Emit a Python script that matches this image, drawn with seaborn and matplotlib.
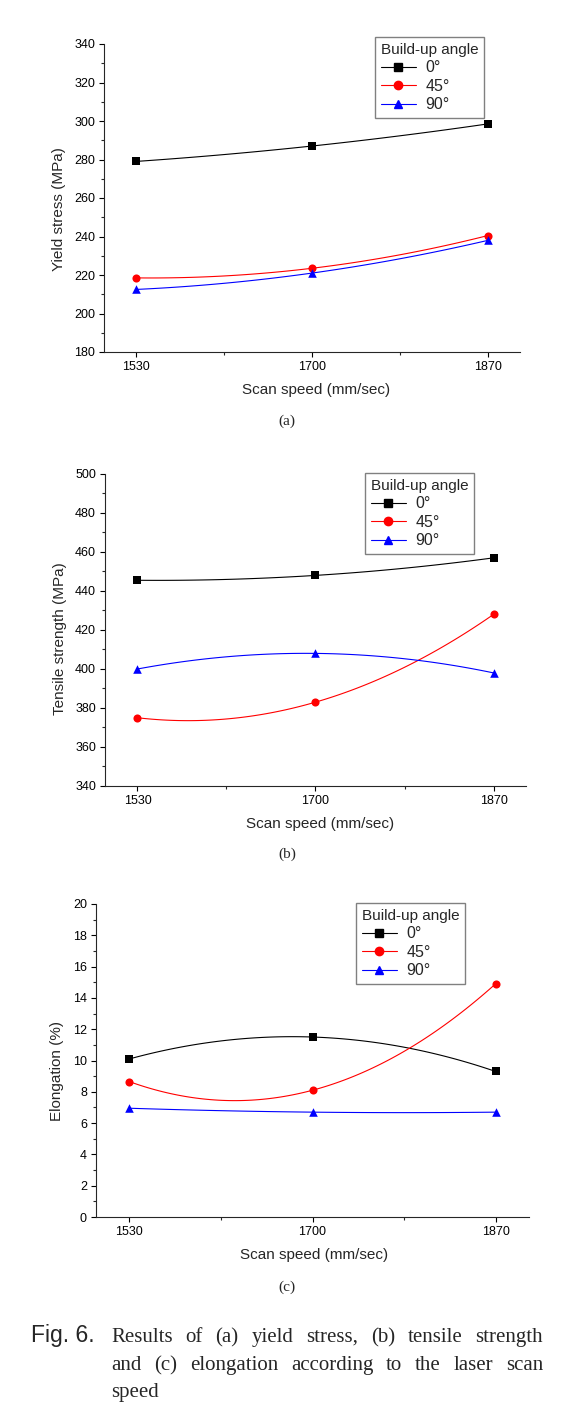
import numpy as np
import pandas as pd
import matplotlib
matplotlib.use("Agg")
import matplotlib.pyplot as plt
import seaborn as sns
from matplotlib.lines import Line2D
from matplotlib.ticker import MultipleLocator, FixedLocator

# ---------------- data ----------------
scan_speed = [1530, 1700, 1870]
angles = ["0°", "45°", "90°"]

yield_0 = [279.0, 287.0, 298.5]
yield_45 = [218.5, 223.5, 240.5]
yield_90 = [212.5, 221.0, 238.0]

tensile_0 = [445.5, 448.0, 457.0]
tensile_45 = [375.0, 383.0, 428.0]
tensile_90 = [400.0, 408.0, 398.0]

elong_0 = [10.1, 11.5, 9.3]
elong_45 = [8.65, 8.1, 14.9]
elong_90 = [6.95, 6.7, 6.7]

colors = ["black", "#ff0000", "#0000ff"]
markers = ["s", "o", "^"]
msizes = [26, 34, 38]

sns.set_style("ticks")
plt.rcParams["font.family"] = ["Liberation Sans", "DejaVu Sans"]
plt.rcParams["axes.linewidth"] = 0.8

W, H = 563, 1416
fig = plt.figure(figsize=(W / 100, H / 100), dpi=100)

# panel layout in pixels: left, right, top, bottom
panels = [
    dict(box=(104, 520, 44, 352), series=[yield_0, yield_45, yield_90],
         ylim=(180, 340), major=20, minor=10, ylabel="Yield stress (MPa)",
         ylab_xy=(-0.092, 0.464), xlab_xy=(0.51, -0.100),
         leg=(375, 37), tag="(a)", tag_y=421),
    dict(box=(105, 526, 474, 786), series=[tensile_0, tensile_45, tensile_90],
         ylim=(340, 500), major=20, minor=10, ylabel="Tensile strength (MPa)",
         ylab_xy=(-0.091, 0.471), xlab_xy=(0.512, -0.099),
         leg=(365, 473), tag="(b)", tag_y=854),
    dict(box=(96, 529, 904, 1217), series=[elong_0, elong_45, elong_90],
         ylim=(0, 20), major=2, minor=1, ylabel="Elongation (%)",
         ylab_xy=(-0.075, 0.466), xlab_xy=(0.503, -0.099),
         leg=(356, 903), tag="(c)", tag_y=1287),
]

for p in panels:
    l, r, t, b = p["box"]
    ax = fig.add_axes([l / W, 1 - b / H, (r - l) / W, (b - t) / H])
    for vals, c, m, s in zip(p["series"], colors, markers, msizes):
        df = pd.DataFrame({"speed": scan_speed, "val": vals})
        # origin-style smooth connector: exact quadratic through the 3 points
        sns.regplot(data=df, x="speed", y="val", order=2, ci=None, truncate=True,
                    color=c, marker=m, ax=ax,
                    scatter_kws={"s": s, "alpha": 1, "linewidths": 0, "zorder": 3},
                    line_kws={"lw": 0.8, "zorder": 2})
    ax.set_xlim(1499, 1901)
    ax.set_ylim(*p["ylim"])
    ax.xaxis.set_major_locator(FixedLocator(scan_speed))
    ax.xaxis.set_minor_locator(FixedLocator([1615, 1785]))
    ax.yaxis.set_major_locator(MultipleLocator(p["major"]))
    ax.yaxis.set_minor_locator(MultipleLocator(p["minor"]))
    ax.tick_params(which="major", direction="out", length=3.5, width=0.8,
                   labelsize=9, pad=3, colors="black")
    ax.tick_params(which="minor", direction="out", length=2, width=0.8)
    sns.despine(ax=ax)
    ax.set_xlabel("Scan speed (mm/sec)", fontsize=11)
    ax.set_ylabel(p["ylabel"], fontsize=11)
    ax.xaxis.set_label_coords(*p["xlab_xy"])
    ax.yaxis.set_label_coords(*p["ylab_xy"])

    handles = [Line2D([], [], color=c, marker=m, lw=0.8, markersize=6)
               for c, m in zip(colors, markers)]
    lx, ly = p["leg"]
    leg = ax.legend(handles, angles, title="Build-up angle", loc="upper left",
                    bbox_to_anchor=(lx / W, 1 - ly / H),
                    bbox_transform=fig.transFigure, fontsize=11.5,
                    title_fontsize=11, alignment="left", fancybox=False,
                    framealpha=1, edgecolor="#808080", handlelength=2.2,
                    handletextpad=0.6, labelspacing=0.22, borderpad=0.35,
                    borderaxespad=0)
    leg.get_frame().set_linewidth(1.0)

    fig.text(287 / W, 1 - p["tag_y"] / H, p["tag"], ha="center", va="center",
             family="Liberation Serif", fontsize=11)

# ---------------- caption ----------------
renderer = fig.canvas.get_renderer()
cap_size = 15
fig.text(31 / W, 1 - 1342 / H, "Fig. 6.", family="Liberation Sans",
         fontsize=16.5, va="baseline")


def justified_line(line, x0, x1, base):
    words = line.split()
    texts = [fig.text(0, 0, w, family="Liberation Serif", fontsize=cap_size,
                      va="baseline") for w in words]
    widths = [tx.get_window_extent(renderer).width for tx in texts]
    gap = (x1 - x0 - sum(widths)) / (len(words) - 1)
    x = x0
    for tx, w in zip(texts, widths):
        tx.set_position((x / W, 1 - base / H))
        x += w + gap


justified_line("Results of (a) yield stress, (b) tensile strength", 111, 543, 1342)
justified_line("and (c) elongation according to the laser scan", 111, 543, 1370)
fig.text(111 / W, 1 - 1397 / H, "speed", family="Liberation Serif",
         fontsize=cap_size, va="baseline")

fig.savefig("out.png", dpi=100)
